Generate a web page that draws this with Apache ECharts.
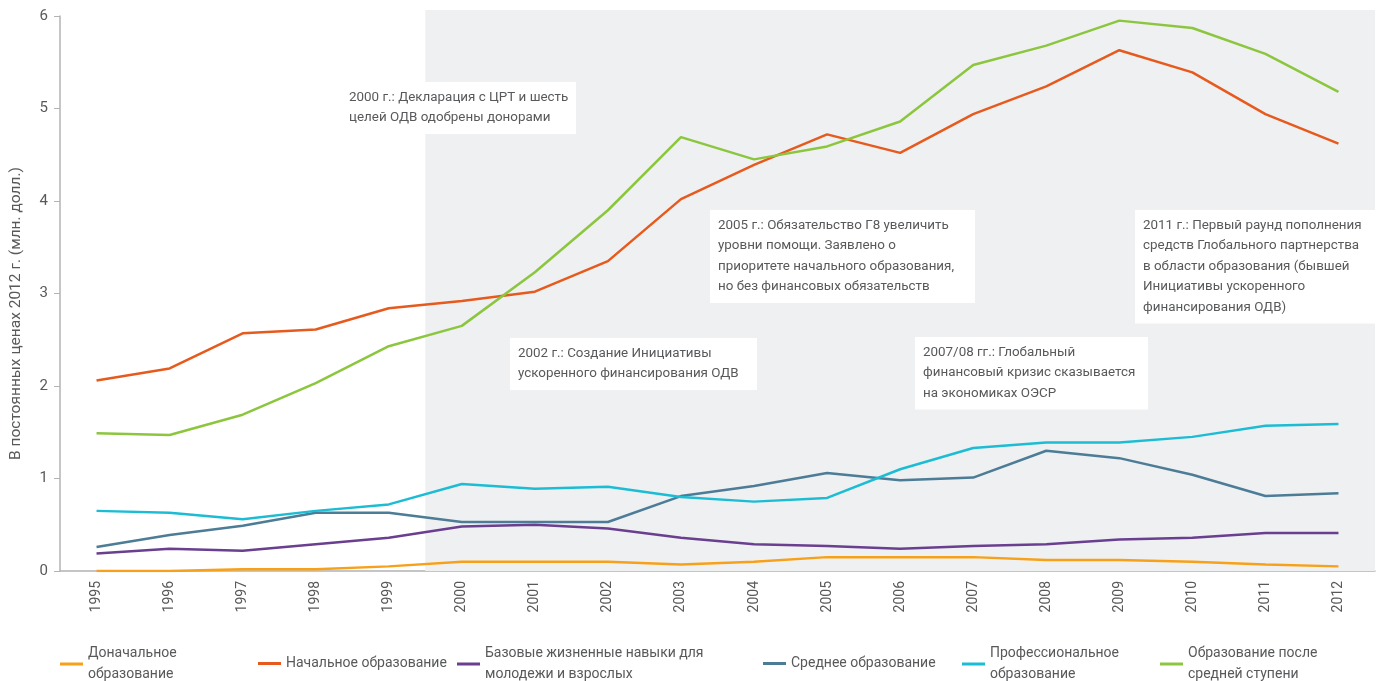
<!DOCTYPE html>
<html>
<head>
<meta charset="utf-8">
<script src="https://cdn.jsdelivr.net/npm/echarts@6/dist/echarts.min.js"></script>
<style>
    html, body { margin: 0; padding: 0; background: #fff; }
    #chart { width: 1377px; height: 681px; }
</style>
</head>
<body>
<div id="chart"></div>
<script>
    var years = ['1995', '1996', '1997', '1998', '1999', '2000', '2001', '2002', '2003',
        '2004', '2005', '2006', '2007', '2008', '2009', '2010', '2011', '2012'];

    var preprimary = [0.00, 0.00, 0.02, 0.02, 0.05, 0.10, 0.10, 0.10, 0.07, 0.10, 0.15, 0.15, 0.15, 0.12, 0.12, 0.10, 0.07, 0.05];
    var primary = [2.06, 2.19, 2.57, 2.61, 2.84, 2.92, 3.02, 3.35, 4.02, 4.39, 4.72, 4.52, 4.94, 5.24, 5.63, 5.39, 4.94, 4.62];
    var lifeSkills = [0.19, 0.24, 0.22, 0.29, 0.36, 0.48, 0.50, 0.46, 0.36, 0.29, 0.27, 0.24, 0.27, 0.29, 0.34, 0.36, 0.41, 0.41];
    var secondary = [0.26, 0.39, 0.49, 0.63, 0.63, 0.53, 0.53, 0.53, 0.81, 0.92, 1.06, 0.98, 1.01, 1.30, 1.22, 1.04, 0.81, 0.84];
    var vocational = [0.65, 0.63, 0.56, 0.65, 0.72, 0.94, 0.89, 0.91, 0.80, 0.75, 0.79, 1.10, 1.33, 1.39, 1.39, 1.45, 1.57, 1.59];
    var postSecondary = [1.49, 1.47, 1.69, 2.03, 2.43, 2.65, 3.23, 3.90, 4.69, 4.45, 4.59, 4.86, 5.47, 5.68, 5.95, 5.87, 5.59, 5.18];

    var seriesNames = ['Доначальное образование', 'Начальное образование',
        'Базовые жизненные навыки для молодежи и взрослых', 'Среднее образование',
        'Профессиональное образование', 'Образование после средней ступени'];
    var legendLabels = ['Доначальное\nобразование', 'Начальное образование',
        'Базовые жизненные навыки для\nмолодежи и взрослых', 'Среднее образование',
        'Профессиональное\nобразование', 'Образование после\nсредней ступени'];
    var colors = ['#f7a11a', '#e65a1e', '#6a3f8f', '#4c7c96', '#1cbdd4', '#8cc63e'];

    var shadeFromYear = 2000;
    var notes = [
        '2000 г.: Декларация с ЦРТ и шесть\nцелей ОДВ одобрены донорами',
        '2002 г.: Создание Инициативы\nускоренного финансирования ОДВ',
        '2005 г.: Обязательство Г8 увеличить\nуровни помощи. Заявлено о\nприоритете начального образования,\nно без финансовых обязательств',
        '2007/08 гг.: Глобальный\nфинансовый кризис сказывается\nна экономиках ОЭСР',
        '2011 г.: Первый раунд пополнения\nсредств Глобального партнерства\nв области образования (бывшей\nИнициативы ускоренного\nфинансирования ОДВ)'
    ];

    var textColor = '#58595b';
    var font = 'Roboto, "Noto Sans", sans-serif';
    var chart = echarts.init(document.getElementById('chart'));

    var dataSets = [preprimary, primary, lifeSkills, secondary, vocational, postSecondary];
    var lineSeries = dataSets.map(function (d, i) {
        return {
            name: seriesNames[i],
            type: 'line',
            data: d,
            symbol: 'none',
            z: 10,
            lineStyle: { width: 2.5, color: colors[i] },
            itemStyle: { color: colors[i] }
        };
    });

    // shaded period from 2000 onward, on a hidden value axis
    lineSeries.unshift({
        type: 'line',
        xAxisIndex: 1,
        yAxisIndex: 1,
        data: [],
        silent: true,
        z: 1,
        markArea: {
            silent: true,
            itemStyle: { color: '#eff0f2' },
            data: [[{ xAxis: shadeFromYear - 0.5, yAxis: 0 }, { xAxis: Number(years[years.length - 1]) + 0.5, yAxis: 1 }]]
        }
    });

    var legendLefts = [60, 258, 457, 763, 962, 1160];
    var legends = seriesNames.map(function (n, i) {
        var twoLines = legendLabels[i].indexOf('\n') >= 0;
        return {
            data: [n],
            left: legendLefts[i],
            top: twoLines ? 643 : 653,
            padding: 0,
            icon: 'rect',
            itemWidth: 23,
            itemHeight: 3,
            selectedMode: false,
            formatter: function () { return legendLabels[i]; },
            textStyle: { fontFamily: font, fontSize: 14, color: textColor, lineHeight: 21 }
        };
    });

    // note boxes: left, top, inner width
    var noteBoxes = [[341, 82, 219], [510, 338, 231], [710, 210, 249], [915, 337, 217], [1135, 210, 225]];
    var graphics = notes.map(function (t, i) {
        return {
            type: 'text',
            left: noteBoxes[i][0],
            top: noteBoxes[i][1],
            z: 5,
            style: {
                text: t,
                width: noteBoxes[i][2],
                fill: textColor,
                font: '13.4px ' + font,
                lineHeight: 20.5,
                backgroundColor: '#ffffff',
                padding: [5, 8, 6, 8]
            }
        };
    });

    chart.setOption({
        animation: false,
        color: colors,
        grid: [
            { left: 60, right: 2, top: 16, bottom: 110 },
            { left: 60, right: 2, top: 10, bottom: 110 }
        ],
        xAxis: [{
            type: 'category',
            data: years,
            gridIndex: 0,
            boundaryGap: true,
            axisLine: { lineStyle: { color: '#b3b3b3', width: 1.5 } },
            axisTick: { length: 6, lineStyle: { color: '#b3b3b3', width: 1.5 } },
            axisLabel: { rotate: 90, margin: 10, fontFamily: font, fontSize: 14, color: textColor }
        }, {
            type: 'value',
            gridIndex: 1,
            min: Number(years[0]) - 0.5,
            max: Number(years[years.length - 1]) + 0.5,
            show: false
        }],
        yAxis: [{
            type: 'value',
            gridIndex: 0,
            min: 0,
            max: 6,
            interval: 1,
            name: 'В постоянных ценах 2012 г. (млн. долл.)',
            nameLocation: 'middle',
            nameGap: 36,
            nameTextStyle: { fontFamily: font, fontSize: 15.5, color: textColor, padding: [0, 40, 0, 0] },
            axisLine: { show: true, lineStyle: { color: '#b3b3b3', width: 1.5 } },
            axisTick: { show: true, length: 6, lineStyle: { color: '#b3b3b3', width: 1 } },
            axisLabel: { margin: 12, fontFamily: font, fontSize: 15, color: textColor },
            splitLine: { show: false }
        }, {
            type: 'value',
            gridIndex: 1,
            min: 0,
            max: 1,
            show: false
        }],
        legend: legends,
        graphic: graphics,
        series: lineSeries
    });
</script>
</body>
</html>
